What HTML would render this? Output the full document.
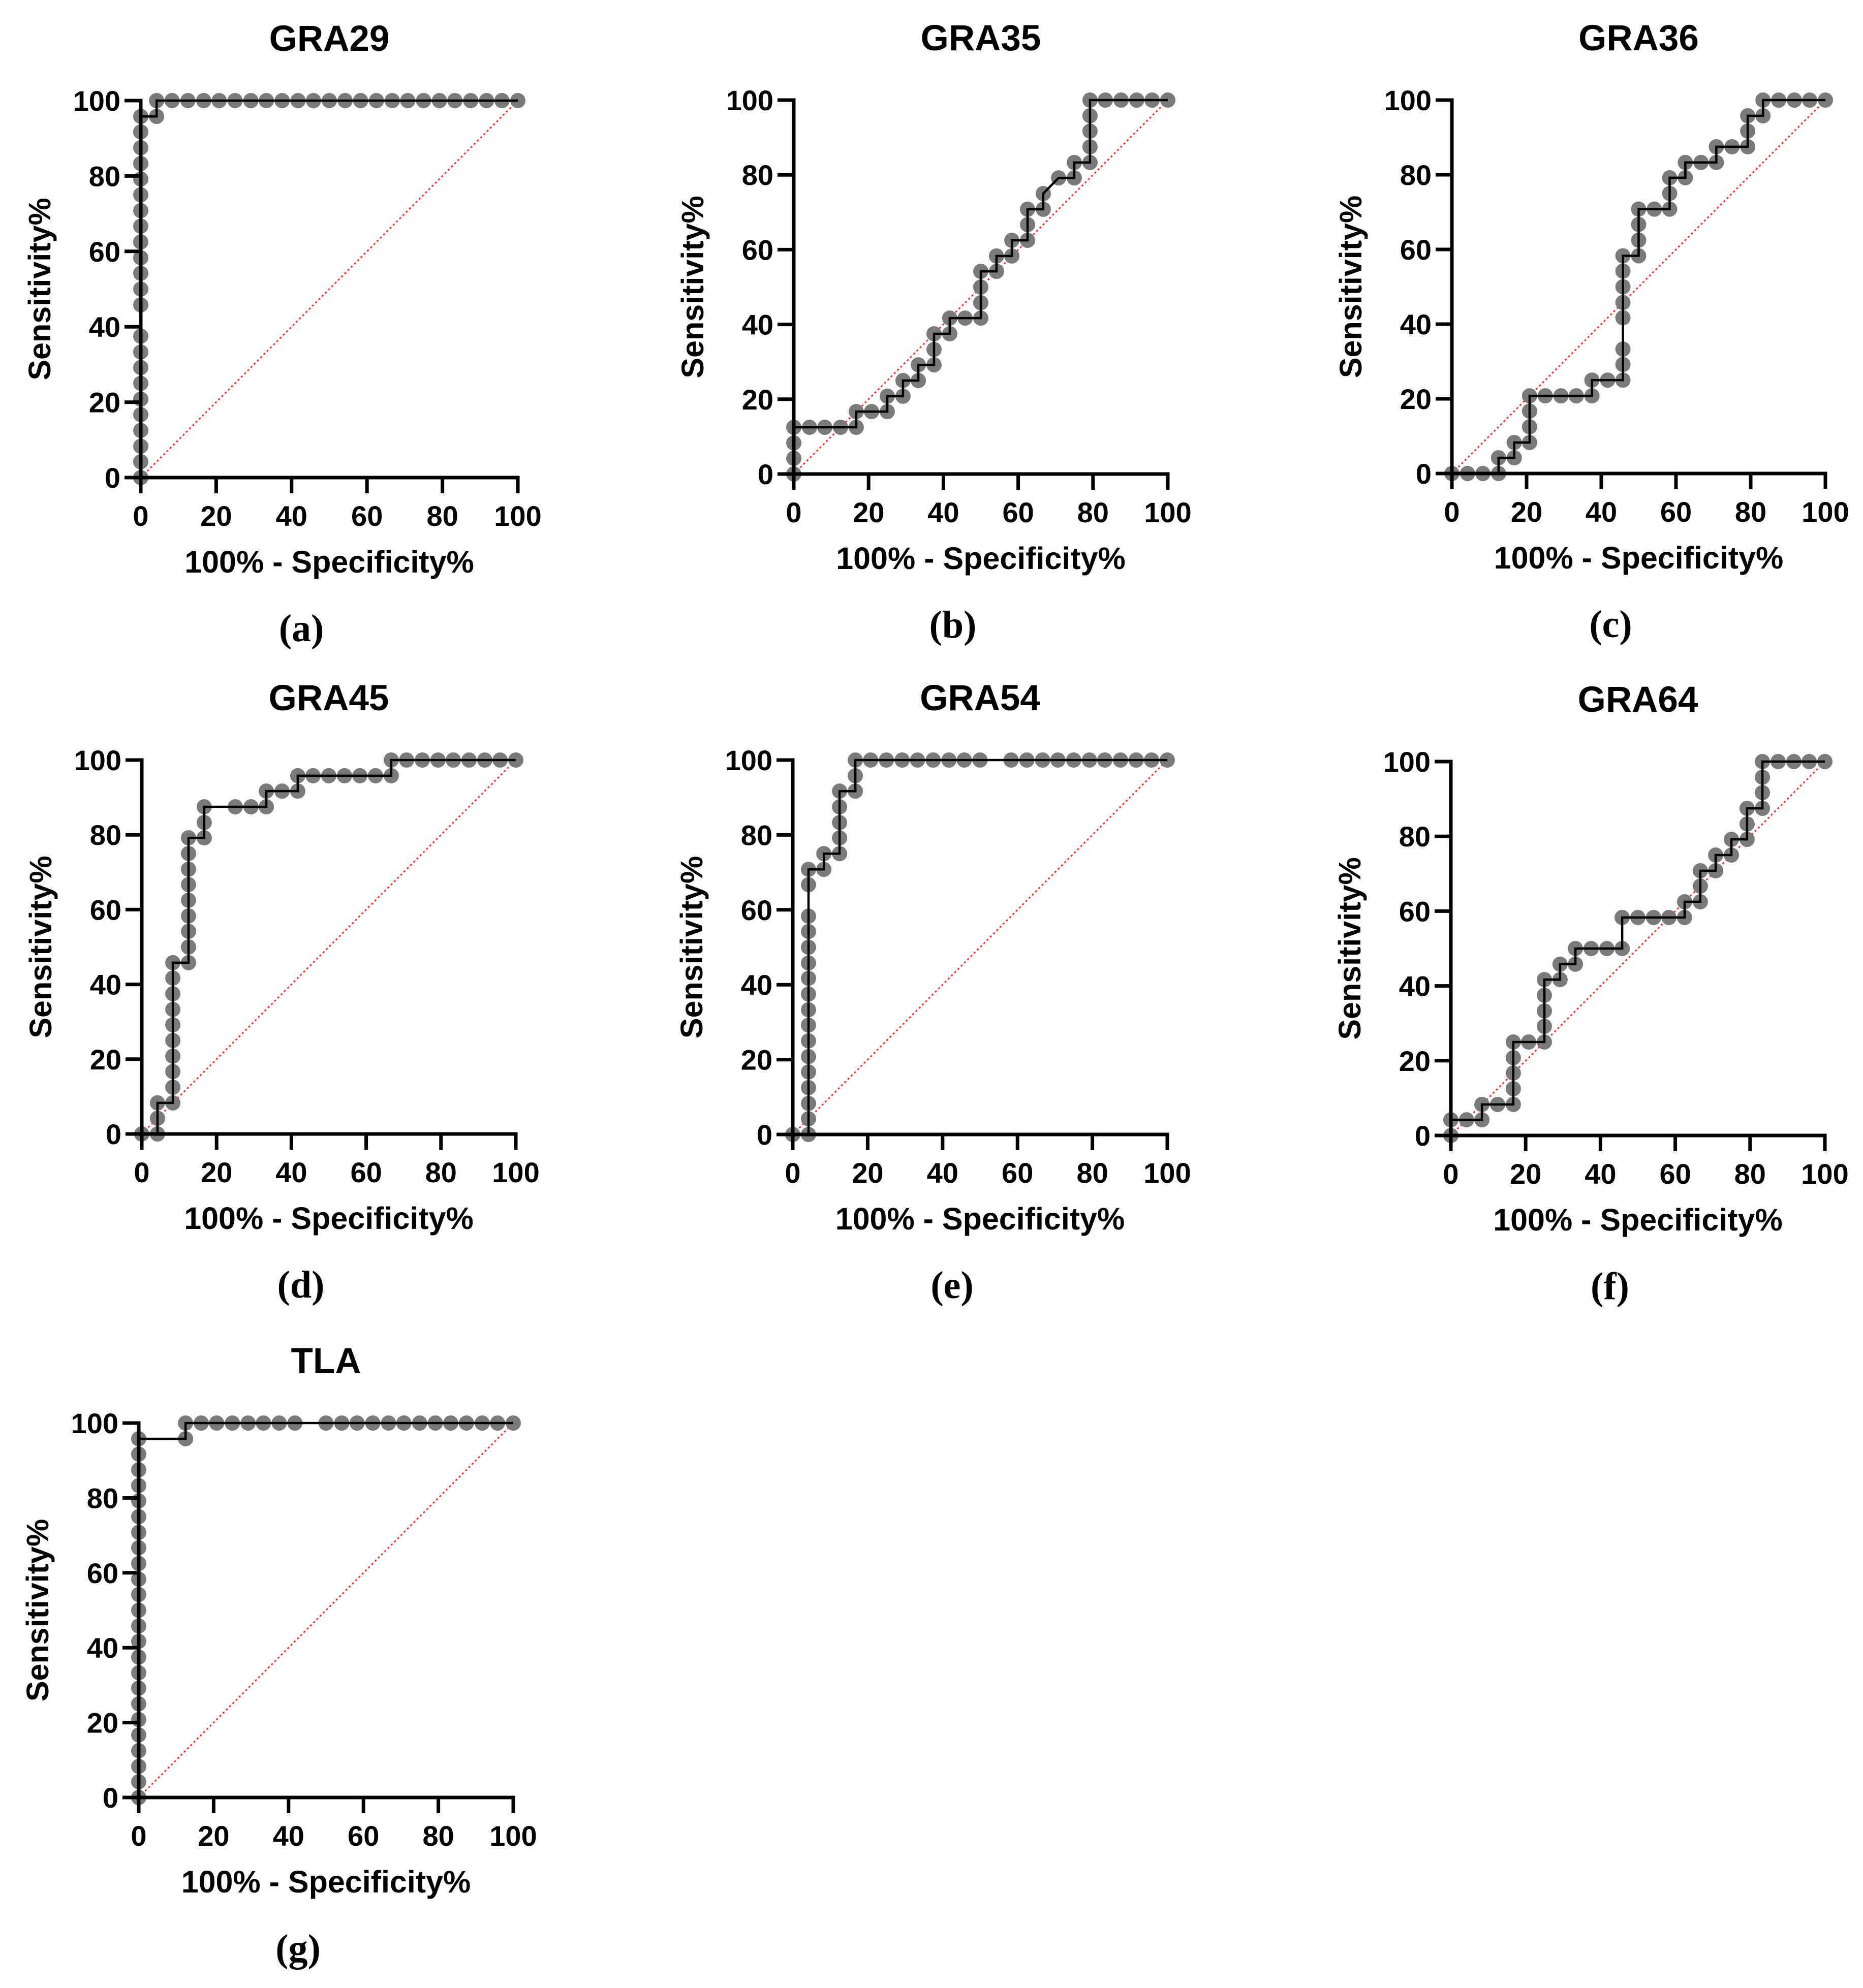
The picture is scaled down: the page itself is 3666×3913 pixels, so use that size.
<!DOCTYPE html>
<html><head><meta charset="utf-8"><style>
html,body{margin:0;padding:0;background:#fff;}
svg{display:block;}
.tk{font-family:"Liberation Sans",sans-serif;font-weight:bold;font-size:56px;fill:#000;}
.ttl{font-family:"Liberation Sans",sans-serif;font-weight:bold;font-size:71px;fill:#000;}
.axt{font-family:"Liberation Sans",sans-serif;font-weight:bold;font-size:61px;fill:#000;}
.pl{font-family:"Liberation Serif",serif;font-weight:bold;font-size:76px;fill:#000;}
</style></head><body>
<svg id="fig" width="3666" height="3913" viewBox="0 0 3666 3913" xmlns="http://www.w3.org/2000/svg"></svg>
<script>
const panelTitles = ["GRA29","GRA35","GRA36","GRA45","GRA54","GRA64","TLA"];
const panelLetters = ["(a)","(b)","(c)","(d)","(e)","(f)","(g)"];
const tickValues = [0,20,40,60,80,100];
const tickLabels = ["0","20","40","60","80","100"];

const gra29X = [0,0,0,0,0,0,0,0,0,0,0,0,0,0,0,0,0,0,0,0,0,0,0,4.2,4.2,8.3,12.5,16.7,20.8,25,29.2,33.3,37.5,41.7,45.8,50,54.2,58.3,62.5,66.7,70.8,75,79.2,83.3,87.5,91.7,95.8,100];
const gra29Y = [0,4.2,8.3,12.5,16.7,20.8,25,29.2,33.3,37.5,45.8,50,54.2,58.3,62.5,66.7,70.8,75,79.2,83.3,87.5,91.7,95.8,95.8,100,100,100,100,100,100,100,100,100,100,100,100,100,100,100,100,100,100,100,100,100,100,100,100];

const gra35X = [0,0,0,0,4.2,8.3,12.5,16.7,16.7,20.8,25,25,29.2,29.2,33.3,33.3,37.5,37.5,37.5,41.7,41.7,45.8,50,50,50,50,54.2,54.2,58.3,58.3,62.5,62.5,62.5,66.7,66.7,70.8,75,75,79.2,79.2,79.2,79.2,79.2,83.3,87.5,91.7,95.8,100];
const gra35Y = [0,4.2,8.3,12.5,12.5,12.5,12.5,12.5,16.7,16.7,16.7,20.8,20.8,25,25,29.2,29.2,33.3,37.5,37.5,41.7,41.7,41.7,45.8,50,54.2,54.2,58.3,58.3,62.5,62.5,66.7,70.8,70.8,75,79.2,79.2,83.3,83.3,87.5,91.7,95.8,100,100,100,100,100,100];

const gra36X = [0,4.2,8.3,12.5,12.5,16.7,16.7,20.8,20.8,20.8,20.8,25,29.2,33.3,37.5,37.5,41.7,45.8,45.8,45.8,45.8,45.8,45.8,45.8,45.8,50,50,50,50,54.2,58.3,58.3,58.3,62.5,62.5,66.7,70.8,70.8,75,79.2,79.2,79.2,83.3,83.3,87.5,91.7,95.8,100];
const gra36Y = [0,0,0,0,4.2,4.2,8.3,8.3,12.5,16.7,20.8,20.8,20.8,20.8,20.8,25,25,25,29.2,33.3,41.7,45.8,50,54.2,58.3,58.3,62.5,66.7,70.8,70.8,70.8,75,79.2,79.2,83.3,83.3,83.3,87.5,87.5,87.5,91.7,95.8,95.8,100,100,100,100,100];

const gra45X = [0,4.2,4.2,4.2,8.3,8.3,8.3,8.3,8.3,8.3,8.3,8.3,8.3,8.3,12.5,12.5,12.5,12.5,12.5,12.5,12.5,12.5,12.5,16.7,16.7,16.7,25,29.2,33.3,33.3,37.5,41.7,41.7,45.8,50,54.2,58.3,62.5,66.7,66.7,70.8,75,79.2,83.3,87.5,91.7,95.8,100];
const gra45Y = [0,0,4.2,8.3,8.3,12.5,16.7,20.8,25,29.2,33.3,37.5,41.7,45.8,45.8,50,54.2,58.3,62.5,66.7,70.8,75,79.2,79.2,83.3,87.5,87.5,87.5,87.5,91.7,91.7,91.7,95.8,95.8,95.8,95.8,95.8,95.8,95.8,100,100,100,100,100,100,100,100,100];

const gra54X = [0,4.2,4.2,4.2,4.2,4.2,4.2,4.2,4.2,4.2,4.2,4.2,4.2,4.2,4.2,4.2,4.2,4.2,8.3,8.3,12.5,12.5,12.5,12.5,12.5,16.7,16.7,16.7,20.8,25,29.2,33.3,37.5,41.7,45.8,50,58.3,62.5,66.7,70.8,75,79.2,83.3,87.5,91.7,95.8,100];
const gra54Y = [0,0,4.2,8.3,12.5,16.7,20.8,25,29.2,33.3,37.5,41.7,45.8,50,54.2,58.3,66.7,70.8,70.8,75,75,79.2,83.3,87.5,91.7,91.7,95.8,100,100,100,100,100,100,100,100,100,100,100,100,100,100,100,100,100,100,100,100];

const gra64X = [0,0,4.2,8.3,8.3,12.5,16.7,16.7,16.7,16.7,16.7,20.8,25,25,25,25,25,29.2,29.2,33.3,33.3,37.5,41.7,45.8,45.8,50,54.2,58.3,62.5,62.5,66.7,66.7,66.7,70.8,70.8,75,75,79.2,79.2,79.2,83.3,83.3,83.3,83.3,87.5,91.7,95.8,100];
const gra64Y = [0,4.2,4.2,4.2,8.3,8.3,8.3,12.5,16.7,20.8,25,25,25,29.2,33.3,37.5,41.7,41.7,45.8,45.8,50,50,50,50,58.3,58.3,58.3,58.3,58.3,62.5,62.5,66.7,70.8,70.8,75,75,79.2,79.2,83.3,87.5,87.5,91.7,95.8,100,100,100,100,100];

const tlaX = [0,0,0,0,0,0,0,0,0,0,0,0,0,0,0,0,0,0,0,0,0,0,0,0,12.5,12.5,16.7,20.8,25,29.2,33.3,37.5,41.7,50,54.2,58.3,62.5,66.7,70.8,75,79.2,83.3,87.5,91.7,95.8,100];
const tlaY = [0,4.2,8.3,12.5,16.7,20.8,25,29.2,33.3,37.5,41.7,45.8,50,54.2,58.3,62.5,66.7,70.8,75,79.2,83.3,87.5,91.7,95.8,95.8,100,100,100,100,100,100,100,100,100,100,100,100,100,100,100,100,100,100,100,100,100];

const seriesX = [gra29X,gra35X,gra36X,gra45X,gra54X,gra64X,tlaX];
const seriesY = [gra29Y,gra35Y,gra36Y,gra45Y,gra54Y,gra64Y,tlaY];

const layout = [
  {x0:277,y0:940,s:742},{x0:1562,y0:933,s:736},{x0:2857,y0:932,s:735},
  {x0:279,y0:2232,s:736},{x0:1560,y0:2233,s:737},{x0:2855,y0:2235,s:736},
  {x0:273,y0:3538,s:737}
];
const NS = "http://www.w3.org/2000/svg";
const svg = document.getElementById('fig');
function mk(tag, attrs, parent){
  const e = document.createElementNS(NS, tag);
  for (const k in attrs) e.setAttribute(k, attrs[k]);
  parent.appendChild(e); return e;
}
layout.forEach((L, i) => {
  const g = mk('g', {}, svg);
  
  
  const xs = v => L.x0 + v / 100 * L.s;
  const ys = v => L.y0 - v / 100 * L.s;
  const cx = L.x0 + L.s / 2, cy = L.y0 - L.s / 2;

  const t = mk('text', {x: cx, y: L.y0 - L.s - 98, 'text-anchor':'middle', class:'ttl'}, g);
  t.textContent = panelTitles[i];
  
  

  const d = mk('line', {x1: xs(0), y1: ys(0), x2: xs(100), y2: ys(100), stroke:'#ff2a2a', 'stroke-width':3, 'stroke-dasharray':'4 5'}, g);
  
  

  const X = seriesX[i], Y = seriesY[i];
  X.forEach((v, j) => {
    const c = mk('circle', {cx: xs(v), cy: ys(Y[j]), r: 15, fill:'#7a7a7a'}, g);
    
    
  });
  const pts = X.map((v, j) => xs(v).toFixed(1) + ',' + ys(Y[j]).toFixed(1)).join(' ');
  const pl = mk('polyline', {points: pts, fill:'none', stroke:'#000', 'stroke-width':4.5, 'stroke-linejoin':'miter'}, g);
  
  

  const ax = mk('path', {d: `M${L.x0} ${ys(100)} V${L.y0} H${xs(100)}`, fill:'none', stroke:'#000', 'stroke-width':7, 'stroke-linecap':'square'}, g);
  
  
  tickValues.forEach((v, k) => {
    const ty = mk('line', {x1: L.x0 - 32, y1: ys(v), x2: L.x0, y2: ys(v), stroke:'#000', 'stroke-width':7}, g);
    
    
    const tx = mk('line', {x1: xs(v), y1: L.y0, x2: xs(v), y2: L.y0 + 31, stroke:'#000', 'stroke-width':7}, g);
    
    
    const ly = mk('text', {x: L.x0 - 40, y: ys(v) + 20, 'text-anchor':'end', class:'tk'}, g);
    ly.textContent = tickLabels[k];
    
    
    const lx = mk('text', {x: xs(v), y: L.y0 + 95, 'text-anchor':'middle', class:'tk'}, g);
    lx.textContent = tickLabels[k];
    
    
  });
  const xt = mk('text', {x: cx, y: L.y0 + 187, 'text-anchor':'middle', class:'axt'}, g);
  xt.textContent = '100% - Specificity%';
  
  
  const yt = mk('text', {x: 0, y: 0, 'text-anchor':'middle', class:'axt', transform:`translate(${L.x0 - 178},${cy}) rotate(-90)`}, g);
  yt.textContent = 'Sensitivity%';
  
  
  const pl2 = mk('text', {x: cx - 55, y: L.y0 + 322, 'text-anchor':'middle', class:'pl'}, g);
  pl2.textContent = panelLetters[i];
  
  
});
</script>
</body></html>
